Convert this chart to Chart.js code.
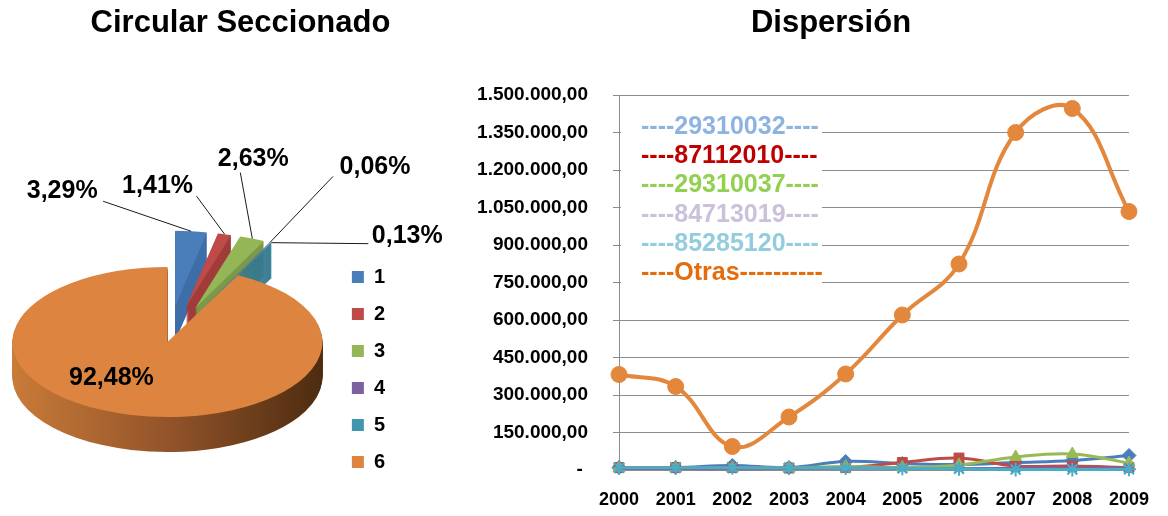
<!DOCTYPE html>
<html>
<head>
<meta charset="utf-8">
<script src="https://cdn.jsdelivr.net/npm/chart.js@4.4.1/dist/chart.umd.min.js"></script>
<style>
body { margin: 0; background: #fff; }
#wrap { position: relative; width: 1168px; height: 516px; overflow: hidden; }
canvas { position: absolute; top: 0; }
.ttl { position: absolute; top: 6px; font: bold 31px Arial, "Liberation Sans", sans-serif; line-height: 31px; text-align: center; color: #000; }
</style>
</head>
<body>
<div id="wrap">
  <canvas id="pie" width="460" height="516" style="left:0"></canvas>
  <canvas id="disp" width="728" height="516" style="left:440px"></canvas>
  <div class="ttl" style="left:0;width:481px">Circular Seccionado</div>
  <div class="ttl" style="left:600px;width:462px">Dispersión</div>
</div>
<script>
// ---- pie data
var pieLabels = ["1", "2", "3", "4", "5", "6"];
var pieValues = [3.29, 1.41, 2.63, 0.06, 0.13, 92.48];

// ---- dispersion data
var years = ["2000", "2001", "2002", "2003", "2004", "2005", "2006", "2007", "2008", "2009"];
var seriesNames = ["29310032", "87112010", "29310037", "84713019", "85285120", "Otras"];
var s29310032 = [10000, 10000, 18000, 10000, 34000, 26000, 22000, 30000, 38000, 58000];
var s87112010 = [10000, 10000, 10000, 8000, 10000, 30000, 48000, 16000, 16000, 10000];
var s29310037 = [8000, 8000, 8000, 8000, 14000, 10000, 20000, 52000, 64000, 28000];
var s84713019 = [6000, 6000, 5000, 6000, 7000, 6000, 6000, 7000, 7000, 8000];
var s85285120 = [9000, 9000, 9000, 8000, 8000, 7000, 5000, 2000, 2000, 3000];
var sOtras = [382000, 334000, 94000, 212000, 384000, 620000, 824000, 1350000, 1446000, 1034000];
var yTicks = [0, 150000, 300000, 450000, 600000, 750000, 900000, 1050000, 1200000, 1350000, 1500000];

// ---- styles
var pieColors = ["#4a7ebb", "#be4b48", "#94b657", "#7d60a0", "#3f97ad", "#dd8540"];
var pieSides = ["#3f6ea8", "#a03c3a", "#7a9a48", "#664d86", "#317f92", null];
var explode = [75, 75, 75, 75, 75, 0];
var tilt = 0.484, depth = 35;
var labelPlace = [
  { dx: -129, dy: -40, lx: -88, ly: -30 },
  { dx: -67, dy: -48, lx: -28, ly: -38 },
  { dx: 1, dy: -79, lx: -12, ly: -66 },
  { dx: 105, dy: -75, lx: 63, ly: -66 },
  { dx: 136, dy: -7, lx: 97, ly: 1 },
  { dx: -56, dy: 36 }
];
var lineColors = ["#4a7ebb", "#be4b48", "#98b954", "#7d60a0", "#4bacc6", "#e3873c"];
var legendColors = ["#8db3e2", "#c00000", "#92d050", "#ccc0da", "#93cddd", "#e46c0a"];

function pct(v) { return v.toFixed(2).replace(".", ",") + "%"; }

var pie3d = {
  id: "pie3d",
  beforeDatasetsDraw: function (chart) {
    var ctx = chart.ctx;
    var arcs = chart.getDatasetMeta(0).data;
    var cx = arcs[0].x, cy = arcs[0].y, R = arcs[0].outerRadius;
    var sideGrad = ctx.createLinearGradient(cx - R, 0, cx + R, 0);
    sideGrad.addColorStop(0, "#c97b38");
    sideGrad.addColorStop(0.5, "#93542a");
    sideGrad.addColorStop(1, "#4d2c10");
    function paint(arc, i, dy, color) {
      ctx.save();
      ctx.translate(0, dy);
      ctx.translate(cx, cy);
      ctx.scale(1, tilt);
      ctx.translate(-cx, -cy);
      var mid = (arc.startAngle + arc.endAngle) / 2;
      ctx.translate(Math.cos(mid) * explode[i], Math.sin(mid) * explode[i]);
      var ghost = Object.create(arc);
      ghost.options = Object.assign({}, arc.options, { backgroundColor: color, borderWidth: 0 });
      ghost.draw(ctx);
      ctx.restore();
    }
    for (var d = depth; d >= 1; d--) {
      arcs.forEach(function (a, i) { paint(a, i, d, pieSides[i] || sideGrad); });
    }
    arcs.forEach(function (a, i) { paint(a, i, 0, pieColors[i]); });
    return false;
  },
  afterDraw: function (chart) {
    var ctx = chart.ctx;
    var arcs = chart.getDatasetMeta(0).data;
    var cx = arcs[0].x, cy = arcs[0].y, R = arcs[0].outerRadius;
    ctx.save();
    ctx.font = "bold 25px Arial";
    ctx.textAlign = "center";
    ctx.textBaseline = "middle";
    ctx.strokeStyle = "#1a1a1a";
    ctx.lineWidth = 1;
    arcs.forEach(function (a, i) {
      var p = labelPlace[i], ax = cx, ay = cy;
      if (explode[i]) {
        var mid = (a.startAngle + a.endAngle) / 2, dist = R + explode[i];
        ax = cx + Math.cos(mid) * dist;
        ay = cy + tilt * Math.sin(mid) * dist;
        ctx.beginPath();
        ctx.moveTo(ax + p.lx, ay + p.ly);
        ctx.lineTo(ax, ay);
        ctx.stroke();
      }
      ctx.fillStyle = "#000";
      ctx.fillText(pct(pieValues[i]), ax + p.dx, ay + p.dy);
    });
    ctx.restore();
  }
};

new Chart(document.getElementById("pie"), {
  type: "pie",
  data: {
    labels: pieLabels,
    datasets: [{ data: pieValues, backgroundColor: pieColors, borderWidth: 0, radius: 155 }]
  },
  options: {
    responsive: false,
    animation: false,
    layout: { padding: { top: 195, bottom: 27, left: 0, right: 65 } },
    plugins: {
      legend: {
        position: "right",
        align: "end",
        labels: { boxWidth: 12, boxHeight: 12, padding: 17, color: "#000", font: { family: "Arial", size: 20, weight: "bold" } }
      },
      tooltip: { enabled: false }
    }
  },
  plugins: [pie3d]
});

// ---- dispersion chart
var legendBox = {
  id: "legendBox",
  beforeDatasetsDraw: function (chart) {
    var ctx = chart.ctx, area = chart.chartArea;
    ctx.save();
    ctx.fillStyle = "#fff";
    ctx.fillRect(area.left + 2, area.top + 10, 201, 185);
    ctx.font = "bold 25px Arial";
    ctx.textBaseline = "middle";
    var target = ctx.measureText("----" + seriesNames[0] + "----").width;
    seriesNames.forEach(function (name, i) {
      var txt = "----" + name + "----";
      while (ctx.measureText(txt).width < target - 4) txt += "-";
      ctx.fillStyle = legendColors[i];
      ctx.fillText(txt, area.left + 22, area.top + 32 + i * 29.3);
    });
    ctx.restore();
  }
};

function series(i, data, style, radius, order) {
  return {
    label: seriesNames[i], data: data, order: order,
    borderColor: lineColors[i], backgroundColor: lineColors[i],
    pointStyle: style, pointRadius: radius, pointBorderWidth: style === "crossRot" || style === "star" ? 2 : 1,
    borderWidth: i === 5 ? 4 : 3, tension: 0.4, clip: false
  };
}

new Chart(document.getElementById("disp"), {
  type: "line",
  data: {
    labels: years,
    datasets: [
      series(0, s29310032, "rectRot", 7, 5),
      series(1, s87112010, "rect", 7, 4),
      series(2, s29310037, "triangle", 7, 3),
      series(3, s84713019, "crossRot", 6, 2),
      series(4, s85285120, "star", 7, 1),
      series(5, sOtras, "circle", 8, 0)
    ]
  },
  options: {
    responsive: false,
    animation: false,
    layout: { padding: { top: 95, right: 35, left: 0, bottom: 0 } },
    plugins: { legend: { display: false }, tooltip: { enabled: false } },
    scales: {
      x: {
        offset: false,
        grid: { display: false, drawTicks: false },
        border: { display: true, color: "#8c8c8c" },
        ticks: {
          color: "#000", padding: 19, maxRotation: 0, autoSkip: false,
          font: { family: "Arial", size: 18, weight: "bold" }
        },
        afterFit: function (s) { s.height = 46; }
      },
      y: {
        min: yTicks[0],
        max: yTicks[yTicks.length - 1],
        afterBuildTicks: function (s) { s.ticks = yTicks.map(function (v) { return { value: v }; }); },
        grid: { color: "#8c8c8c", tickLength: 6, tickColor: "#8c8c8c" },
        border: { color: "#8c8c8c" },
        ticks: {
          color: "#000", padding: 25,
          font: { family: "Arial", size: 19, weight: "bold" },
          callback: function (v) {
            if (v === 0) return "- ";
            return String(v).replace(/\B(?=(\d{3})+(?!\d))/g, ".") + ",00";
          }
        },
        afterFit: function (s) { s.width = 179; }
      }
    }
  },
  plugins: [legendBox]
});
</script>
</body>
</html>
